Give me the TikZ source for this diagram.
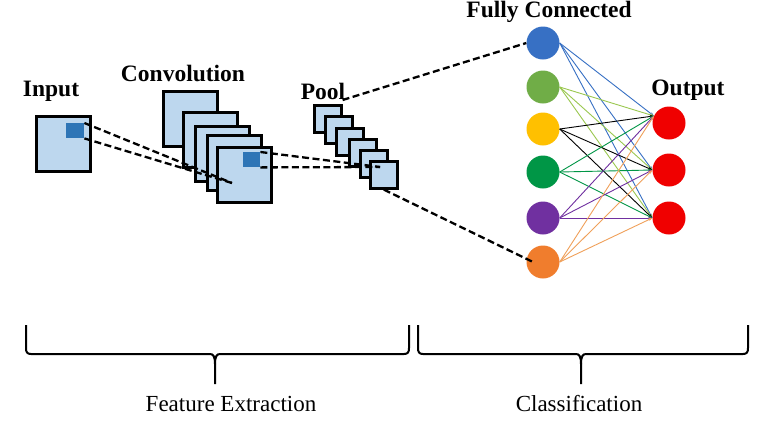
\documentclass[tikz,border=0pt]{standalone}
\usepackage{fontspec}
\setmainfont{Liberation Serif}
\usetikzlibrary{arrows.meta}
\definecolor{lightfill}{RGB}{189,215,238}
\definecolor{darkfill}{RGB}{46,117,182}
\definecolor{nblue}{RGB}{55,112,196}
\definecolor{nlgreen}{RGB}{112,173,71}
\definecolor{nyellow}{RGB}{255,192,0}
\definecolor{ngreen}{RGB}{0,150,70}
\definecolor{npurple}{RGB}{112,48,160}
\definecolor{norange}{RGB}{240,125,45}
\definecolor{nred}{RGB}{240,0,0}
\definecolor{elgreen}{RGB}{155,200,80}
\definecolor{eorange}{RGB}{240,160,90}
\begin{document}
\begin{tikzpicture}[x=1pt,y=-1pt,
  sq/.style={draw=black,line width=2.6pt,fill=lightfill,anchor=north west,inner sep=0pt},
  dsq/.style={draw=none,fill=darkfill,anchor=north west,inner sep=0pt,minimum width=17pt,minimum height=15pt},
  bigsq/.style={sq,minimum width=54pt,minimum height=55pt},
  smsq/.style={sq,minimum width=27pt,minimum height=27pt},
  dline/.style={draw=black,line width=2.3pt,dash pattern=on 7pt off 3.5pt},
  neuron/.style={circle,draw=none,minimum size=33pt,inner sep=0pt},
  wire/.style={line width=0.9pt,-{Stealth[length=4pt,width=3pt]}},
  blab/.style={font=\fontsize{23.5}{27}\selectfont\bfseries,anchor=base,inner sep=0pt},
  nlab/.style={font=\fontsize{23}{27}\selectfont,anchor=base,inner sep=0pt},
  brace/.style={draw=black,line width=2pt}
]
\useasboundingbox[fill=white] (0,0) rectangle (757,421);

% labels
\node[blab] (linput) at (51,96) {Input};
\node[blab] (lconv) at (183,81) {Convolution};
\node[blab] (lpool) at (323,99) {Pool};
\node[blab] (lfc) at (549,17) {Fully Connected};
\node[blab] (lout) at (688,95) {Output};

% input
\node[bigsq] (in) at (35,115) {};
\node[dsq,minimum width=18pt] (ind) at (66,123) {};

% convolution
\node[bigsq] (c1) at (162,90) {};
\node[bigsq] (c2) at (182,111) {};
\node[bigsq] (c3) at (194,125) {};
\node[bigsq] (c4) at (206,134) {};
\node[bigsq] (c5) at (216,146) {};
\node[dsq] (cd) at (243,152) {};

% pool
\node[smsq] (p1) at (313,104) {};
\node[smsq] (p2) at (324,115) {};
\node[smsq] (p3) at (335,127) {};
\node[smsq] (p4) at (348,138) {};
\node[smsq] (p5) at (359,149) {};
\node[smsq] (p6) at (369,160) {};

% fully connected
\node[neuron,fill=nblue] (f1) at (543,43) {};
\node[neuron,fill=nlgreen] (f2) at (543,87) {};
\node[neuron,fill=nyellow] (f3) at (543,129) {};
\node[neuron,fill=ngreen] (f4) at (543,172) {};
\node[neuron,fill=npurple] (f5) at (543,218) {};
\node[neuron,fill=norange] (f6) at (543,262) {};

% output
\node[neuron,fill=nred] (o1) at (669,123) {};
\node[neuron,fill=nred] (o2) at (669,170) {};
\node[neuron,fill=nred] (o3) at (669,218) {};

% wires
\foreach \s/\c in {f1/nblue,f2/elgreen,f3/black,f4/ngreen,f5/npurple,f6/eorange}{
  \draw[wire,draw=\c] (\s.east) -- (o1.155);
  \draw[wire,draw=\c] (\s.east) -- (o2.west);
  \draw[wire,draw=\c] (\s.east) -- (o3.west);
}

% dashed connectors
\coordinate (t1) at (232,183);
\coordinate (t2) at (380,167);
\coordinate (t3) at (533,262);
\draw[dline] (ind.north east) -- (t1);
\draw[dline] (ind.south east) -- (t1);
\draw[dline] (cd.north east) -- (t2);
\draw[dline] (cd.south east) -- (t2);
\draw[dline] ([yshift=4pt]p1.north east) -- (f1.west);
\draw[dline] (p6.south) -- (t3);

% braces
\draw[brace] (26,325) -- (26,348) .. controls (26,352) and (27,354) .. (31,354)
  -- (210,354) .. controls (213,354) and (215,356) .. (215,364) -- (215,384);
\draw[brace] (215,364) .. controls (215,356) and (217,354) .. (220,354)
  -- (404,354) .. controls (408,354) and (409,352) .. (409,348) -- (409,325);
\draw[brace] (418,325) -- (418,348) .. controls (418,352) and (419,354) .. (423,354)
  -- (576,354) .. controls (579,354) and (581,356) .. (581,364) -- (581,384);
\draw[brace] (581,364) .. controls (581,356) and (583,354) .. (586,354)
  -- (743,354) .. controls (747,354) and (748,352) .. (748,348) -- (748,325);

\node[nlab] (lfe) at (231,411) {Feature Extraction};
\node[nlab] (lcl) at (579,411) {Classification};
\end{tikzpicture}
\end{document}
